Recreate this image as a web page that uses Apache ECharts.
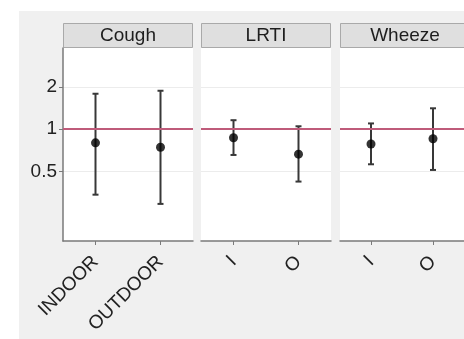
<!DOCTYPE html>
<html>
<head>
<meta charset="utf-8">
<script src="https://cdn.jsdelivr.net/npm/echarts@6/dist/echarts.min.js"></script>
<style>
  html, body { margin: 0; padding: 0; background: #ffffff; }
  #chart { width: 464px; height: 339px; }
</style>
</head>
<body>
<div id="chart"></div>
<script>
// Facet titles and the categories inside each facet
const stripLabels = ['Cough', 'LRTI', 'Wheeze'];
const categories = [['INDOOR', 'OUTDOOR'], ['I', 'O'], ['I', 'O']];

// Odds ratios with lower / upper confidence limits, one pair per facet
const estimates = [[0.80, 0.745], [0.87, 0.665], [0.785, 0.855]];
const lowerCI   = [[0.342, 0.294], [0.656, 0.424], [0.563, 0.513]];
const upperCI   = [[1.79, 1.88], [1.16, 1.05], [1.10, 1.41]];

// Reference ratio and y tick labels (log2 scale)
const refValue = 1;
const yTickValues = [0.5, 1, 2];

const panelLeft = [63, 201, 340];
const panelWidth = 130;
const panelTop = 48;
const panelHeight = 193;
const yMin = 0.16, yMax = 3.79;
const font = 'Liberation Sans, Arial, sans-serif';

const chart = echarts.init(document.getElementById('chart'), null, { renderer: 'canvas' });

const grids = [], xAxes = [], yAxes = [], series = [], graphics = [];

// panel background area
graphics.push({
  type: 'rect', z: -10, silent: true,
  shape: { x: 19, y: 11, width: 464 - 19, height: 339 - 11 },
  style: { fill: '#f0f0f0' }
});

stripLabels.forEach((label, i) => {
  grids.push({
    left: panelLeft[i], top: panelTop, width: panelWidth, height: panelHeight,
    show: true, backgroundColor: '#ffffff', borderWidth: 0
  });
  xAxes.push({
    type: 'category', gridIndex: i, data: categories[i], boundaryGap: true,
    axisLine: { show: true, lineStyle: { color: '#7a7a7a', width: 1.5 } },
    axisTick: { show: true, alignWithLabel: true, interval: 0, length: 4, lineStyle: { color: '#7a7a7a', width: 1 } },
    axisLabel: {
      interval: 0, rotate: 45, margin: 18, fontSize: 19, color: '#222',
      fontFamily: font
    },
    splitLine: { show: false }
  });
  yAxes.push({
    type: 'log', logBase: 2, gridIndex: i, min: yMin, max: yMax,
    axisLine: { show: i === 0, lineStyle: { color: '#7a7a7a', width: 1.5 } },
    axisTick: { show: i === 0, length: 4, customValues: yTickValues, lineStyle: { color: '#7a7a7a' } },
    axisLabel: {
      show: i === 0, customValues: yTickValues, margin: 6, fontSize: 19, color: '#222',
      fontFamily: font
    },
    splitLine: { show: true, lineStyle: { color: '#ececec', width: 1 } }
  });

  // reference line at ratio 1
  series.push({
    type: 'line', xAxisIndex: i, yAxisIndex: i, data: [], z: 1, silent: true,
    markLine: {
      silent: true, symbol: 'none', label: { show: false },
      lineStyle: { color: '#bf5b7a', width: 2, type: 'solid' },
      data: [{ yAxis: refValue }]
    }
  });

  // confidence interval bars
  series.push({
    type: 'custom', xAxisIndex: i, yAxisIndex: i, z: 2, silent: true,
    data: categories[i].map((c, j) => [j, lowerCI[i][j], upperCI[i][j]]),
    renderItem: function (params, api) {
      const lo = api.coord([api.value(0), api.value(1)]);
      const hi = api.coord([api.value(0), api.value(2)]);
      const cap = 3;
      const style = { stroke: '#383838', lineWidth: 2 };
      return {
        type: 'group',
        children: [
          { type: 'line', shape: { x1: lo[0], y1: lo[1], x2: hi[0], y2: hi[1] }, style },
          { type: 'line', shape: { x1: lo[0] - cap, y1: lo[1], x2: lo[0] + cap, y2: lo[1] }, style },
          { type: 'line', shape: { x1: hi[0] - cap, y1: hi[1], x2: hi[0] + cap, y2: hi[1] }, style }
        ]
      };
    }
  });

  // point estimates
  series.push({
    type: 'scatter', xAxisIndex: i, yAxisIndex: i, z: 3, silent: true,
    symbol: 'circle', symbolSize: 9,
    itemStyle: { color: '#000000' },
    data: categories[i].map((c, j) => [j, estimates[i][j]])
  });

  // facet strip
  graphics.push({
    type: 'group', silent: true,
    children: [
      {
        type: 'rect',
        shape: { x: panelLeft[i] + 0.5, y: 23.5, width: panelWidth - 1, height: 24 },
        style: { fill: '#dfdfdf', stroke: '#a9a9a9', lineWidth: 1 }
      },
      {
        type: 'text',
        style: {
          x: panelLeft[i] + panelWidth / 2, y: 36, text: label,
          align: 'center', verticalAlign: 'middle',
          fontSize: 19, fill: '#1e1e1e', fontFamily: font
        }
      }
    ]
  });
});

chart.setOption({
  animation: false,
  backgroundColor: '#ffffff',
  grid: grids,
  xAxis: xAxes,
  yAxis: yAxes,
  series: series,
  graphic: graphics
});
</script>
</body>
</html>
